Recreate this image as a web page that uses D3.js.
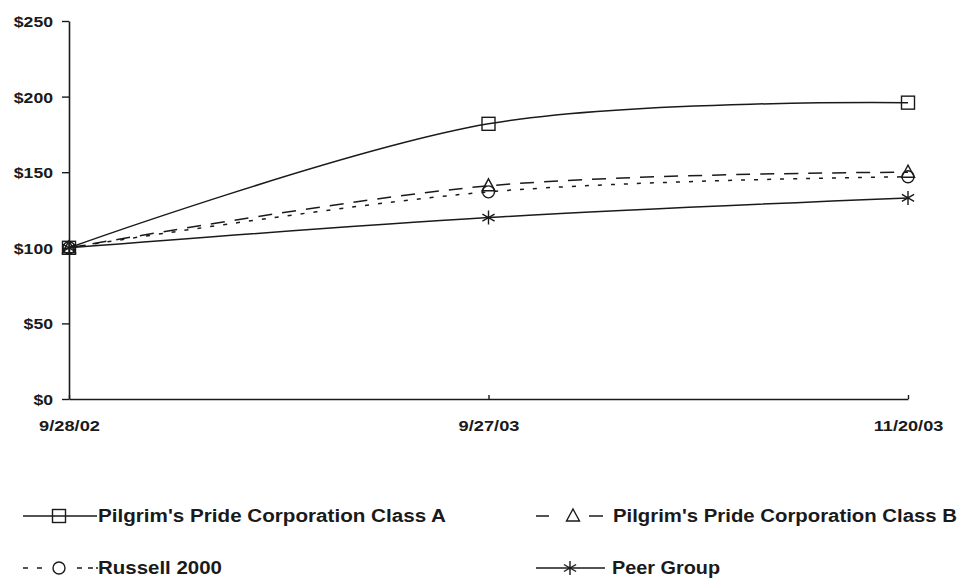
<!DOCTYPE html>
<html>
<head>
<meta charset="utf-8">
<script src="https://cdn.jsdelivr.net/npm/d3@7"></script>
<style>
  html, body { margin: 0; padding: 0; background: #fff; }
  svg { display: block; }
</style>
</head>
<body>
<svg id="chart" width="959" height="578"></svg>
<script>
// ---- data ----
const dates = ["9/28/02", "9/27/03", "11/20/03"];
const seriesNames = ["Pilgrim's Pride Corporation Class A", "Pilgrim's Pride Corporation Class B", "Russell 2000", "Peer Group"];
const classA = [100, 182, 196];
const classB = [100, 141, 150];
const russell2000 = [100, 137, 147];
const peerGroup = [100, 120, 133];
const yTicks = [0, 50, 100, 150, 200, 250];

// ---- styling / layout ----
const styles = [
  { marker: "square", dash: null },
  { marker: "triangle", dash: "14,10" },
  { marker: "circle", dash: "4,9" },
  { marker: "star", dash: null }
];
const seriesValues = [classA, classB, russell2000, peerGroup];
const ink = "#1a1a1a";

const svg = d3.select("#chart");
const x = d3.scalePoint().domain(dates).range([69, 908]);
const y = d3.scaleLinear().domain([0, 250]).range([399, 21]);

// y axis
const yAxis = svg.append("g")
  .attr("transform", "translate(69,0)")
  .call(d3.axisLeft(y).tickValues(yTicks).tickSize(7).tickSizeOuter(0).tickPadding(9)
    .tickFormat(d => "$" + d));
yAxis.select(".domain").attr("stroke", ink).attr("stroke-width", 1.6);
yAxis.selectAll(".tick line").attr("stroke", ink).attr("stroke-width", 1.4);
yAxis.selectAll(".tick text")
  .attr("fill", ink)
  .style("font-family", "'Liberation Sans', Arial, sans-serif")
  .style("font-weight", "bold")
  .style("font-size", "15px")
  .attr("dy", "0.36em")
  .each(function() {
    const t = d3.select(this);
    const n = t.text().length;
    t.attr("textLength", n * 9.8).attr("lengthAdjust", "spacingAndGlyphs");
  });

// x axis
const xAxis = svg.append("g")
  .attr("transform", "translate(0,399)")
  .call(d3.axisBottom(x).tickSize(-4).tickSizeOuter(0).tickPadding(0));
xAxis.select(".domain").attr("stroke", ink).attr("stroke-width", 1.6);
xAxis.selectAll(".tick line").attr("stroke", ink).attr("stroke-width", 1.4);
xAxis.selectAll(".tick text")
  .attr("fill", ink)
  .attr("y", 32)
  .attr("dy", 0)
  .style("font-family", "'Liberation Sans', Arial, sans-serif")
  .style("font-weight", "bold")
  .style("font-size", "15px")
  .each(function() {
    const t = d3.select(this);
    const n = t.text().length;
    t.attr("textLength", n * 8.7).attr("lengthAdjust", "spacingAndGlyphs");
  });

// markers
function drawMarker(g, type, cx, cy, s) {
  if (type === "square") {
    g.append("rect").attr("x", cx - 6.5).attr("y", cy - 6.5).attr("width", 13).attr("height", 13)
      .attr("fill", "none").attr("stroke", ink).attr("stroke-width", 1.4);
  } else if (type === "triangle") {
    g.append("path").attr("d", `M${cx},${cy - 7}L${cx + 6.5},${cy + 5}L${cx - 6.5},${cy + 5}Z`)
      .attr("fill", "none").attr("stroke", ink).attr("stroke-width", 1.4);
  } else if (type === "circle") {
    g.append("circle").attr("cx", cx).attr("cy", cy).attr("r", 6)
      .attr("fill", "none").attr("stroke", ink).attr("stroke-width", 1.4);
  } else if (type === "star") {
    const r = 7;
    const d = `M${cx},${cy - r}L${cx},${cy + r}` +
      `M${cx - r * 0.87},${cy - r * 0.5}L${cx + r * 0.87},${cy + r * 0.5}` +
      `M${cx - r * 0.87},${cy + r * 0.5}L${cx + r * 0.87},${cy - r * 0.5}`;
    g.append("path").attr("d", d).attr("fill", "none").attr("stroke", ink).attr("stroke-width", 1.4);
  }
}

const line = d3.line()
  .x((d, i) => x(dates[i]))
  .y(d => y(d))
  .curve(d3.curveCardinal.tension(0));

seriesValues.forEach((vals, si) => {
  const g = svg.append("g");
  g.append("path")
    .attr("d", line(vals))
    .attr("fill", "none")
    .attr("stroke", ink)
    .attr("stroke-width", 1.5)
    .attr("stroke-dasharray", styles[si].dash);
  vals.forEach((v, i) => drawMarker(g, styles[si].marker, x(dates[i]), y(v)));
});

// legend
const legendPos = [
  { x: 23, y: 516, textW: 348 },
  { x: 536, y: 516, textW: 344 },
  { x: 23, y: 568, textW: 124 },
  { x: 536, y: 568, textW: 108 }
];
seriesNames.forEach((name, si) => {
  const p = legendPos[si];
  const g = svg.append("g");
  let x0 = p.x, x1 = p.x + 74, mx = p.x + 36;
  if (si === 1) { x0 = p.x; x1 = p.x + 67; mx = p.x + 37; }
  if (si === 3) { x1 = p.x + 69; mx = p.x + 34; }
  if (si === 1) {
    g.append("line").attr("x1", x0).attr("x2", x0 + 13).attr("y1", p.y).attr("y2", p.y)
      .attr("stroke", ink).attr("stroke-width", 1.5);
    g.append("line").attr("x1", x1 - 14).attr("x2", x1).attr("y1", p.y).attr("y2", p.y)
      .attr("stroke", ink).attr("stroke-width", 1.5);
  } else if (si === 2) {
    [0, 14, 54, 65].forEach(o => {
      g.append("line").attr("x1", x0 + o).attr("x2", x0 + o + 5).attr("y1", p.y).attr("y2", p.y)
        .attr("stroke", ink).attr("stroke-width", 1.5);
    });
    g.append("line").attr("x1", x0 + 73).attr("x2", x0 + 75).attr("y1", p.y).attr("y2", p.y)
      .attr("stroke", ink).attr("stroke-width", 1.5);
  } else {
    g.append("line").attr("x1", x0).attr("x2", x1).attr("y1", p.y).attr("y2", p.y)
      .attr("stroke", ink).attr("stroke-width", 1.5);
  }
  drawMarker(g, styles[si].marker, mx, p.y);
  g.append("text")
    .attr("x", si === 1 ? p.x + 77 : (si === 3 ? p.x + 76 : p.x + 75))
    .attr("y", p.y)
    .attr("dy", "0.36em")
    .attr("fill", ink)
    .style("font-family", "'Liberation Sans', Arial, sans-serif")
    .style("font-weight", "bold")
    .style("font-size", "18px")
    .attr("textLength", p.textW)
    .attr("lengthAdjust", "spacingAndGlyphs")
    .text(name);
});
</script>
</body>
</html>
